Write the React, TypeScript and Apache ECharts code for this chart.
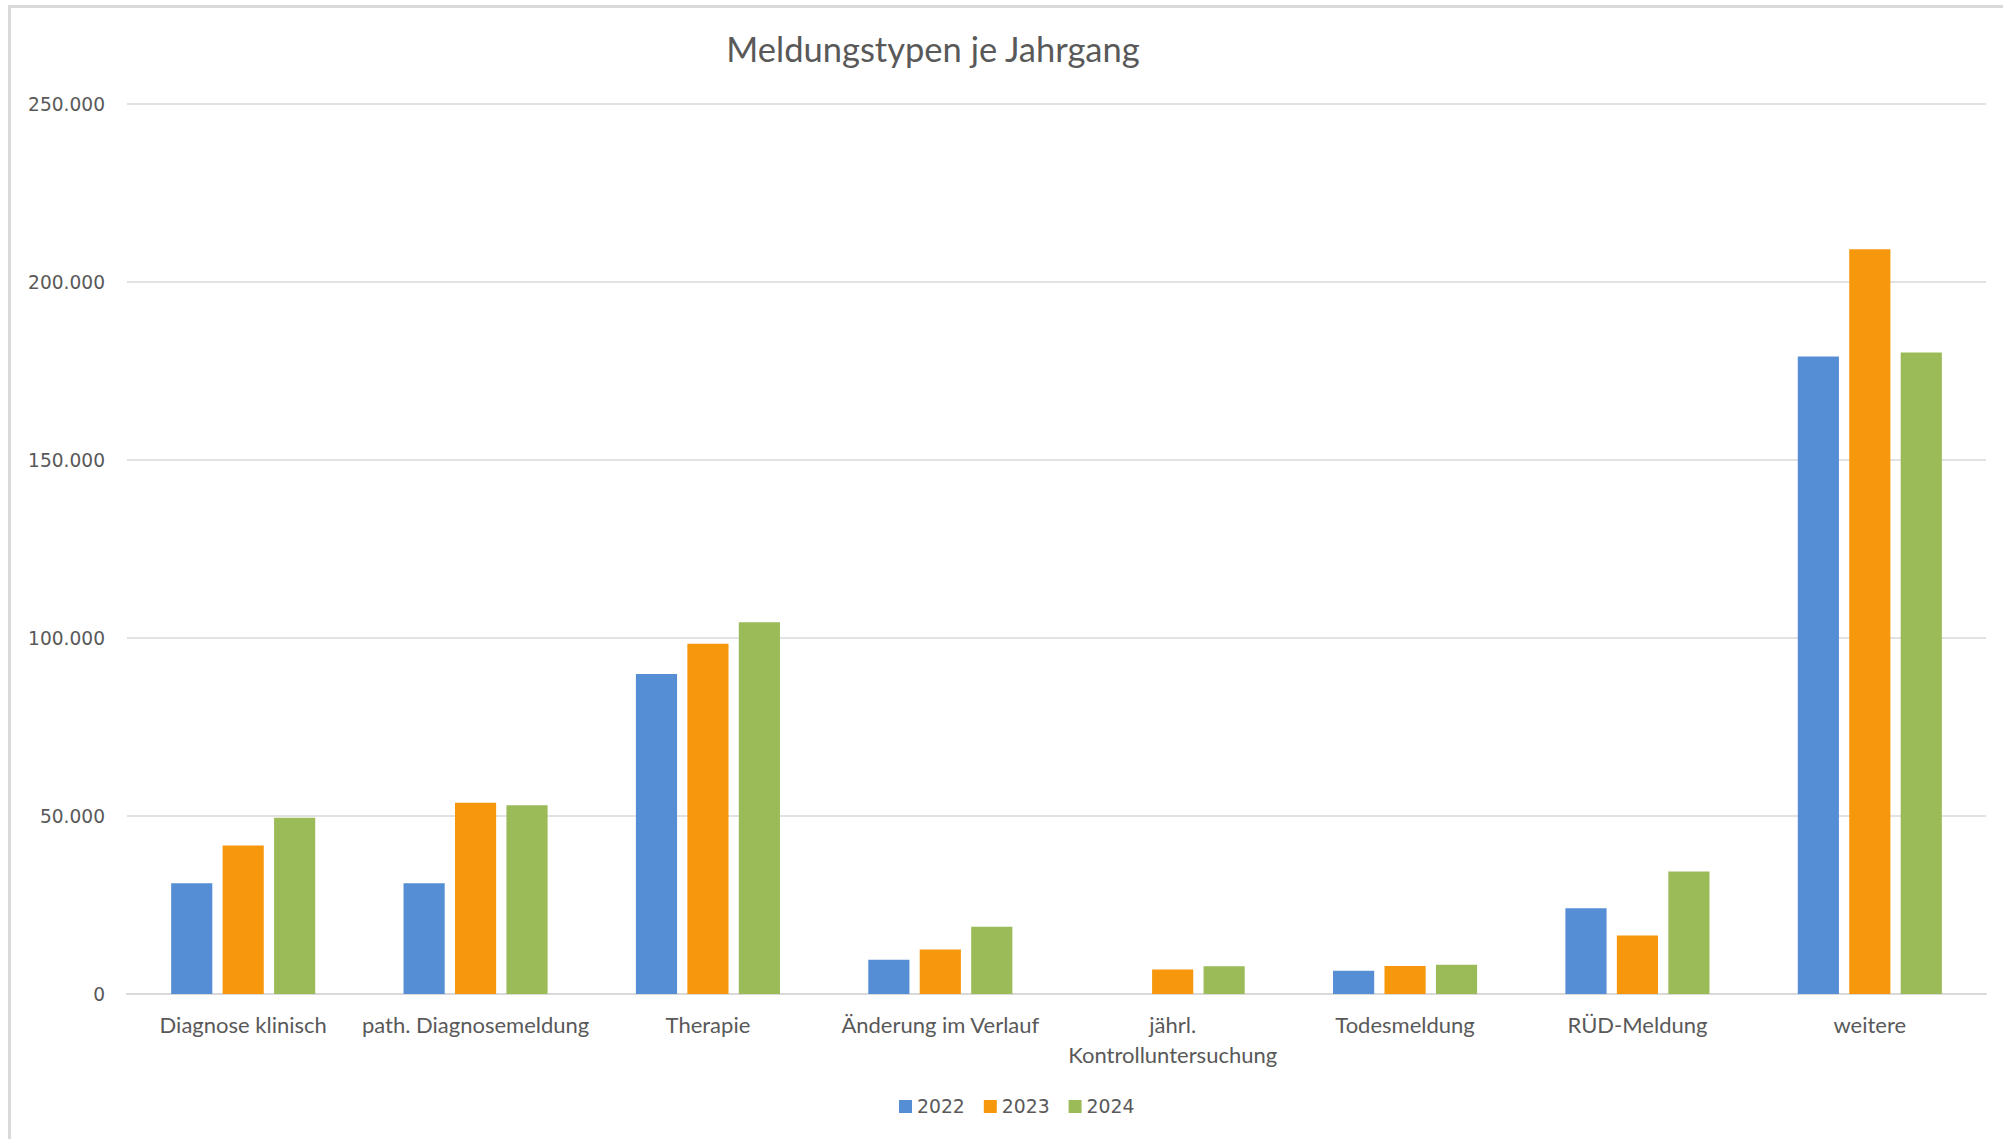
import React, { useEffect, useRef } from "react";
import * as echarts from "echarts";

const categories = [
  "Diagnose klinisch",
  "path. Diagnosemeldung",
  "Therapie",
  "Änderung im Verlauf",
  "jährl.\nKontrolluntersuchung",
  "Todesmeldung",
  "RÜD-Meldung",
  "weitere",
];
const seriesNames = ["2022", "2023", "2024"];
const values2022 = [31100, 31100, 89900, 9600, 0, 6500, 24100, 179100];
const values2023 = [41700, 53700, 98400, 12500, 6900, 7900, 16400, 209200];
const values2024 = [49500, 53000, 104400, 18900, 7800, 8200, 34400, 180200];
const colors = ["#558ED5", "#F7970C", "#9BBB59"];
const title = "Meldungstypen je Jahrgang";

const fmt = (v: number) => String(v).replace(/\B(?=(\d{3})+(?!\d))/g, ".");

export default function App() {
  const ref = useRef<HTMLDivElement>(null);
  useEffect(() => {
    if (!ref.current) return;
    const chart = echarts.init(ref.current, undefined, { renderer: "svg" });
    const allValues = [values2022, values2023, values2024];
    chart.setOption({
      animation: false,
      backgroundColor: "#ffffff",
      title: {
        text: title,
        left: 928,
        textAlign: "center",
        top: 26,
        textStyle: {
          fontFamily: "Lato",
          fontSize: 34.5,
          fontWeight: "normal",
          color: "#595959",
        },
      },
      graphic: [
        {
          type: "rect",
          shape: { x: 9.5, y: 6.5, width: 2100, height: 1200 },
          style: { fill: "none", stroke: "#d9d9d9", lineWidth: 3 },
          silent: true,
        },
      ],
      legend: {
        data: seriesNames,
        left: 899,
        top: 1097,
        padding: 0,
        itemWidth: 13,
        itemHeight: 13,
        itemGap: 19,
        icon: "rect",
        textStyle: {
          fontFamily: "DejaVu Sans",
          fontSize: 18.8,
          lineHeight: 18,
          color: "#595959",
        },
      },
      grid: { left: 127, right: 17, top: 104, bottom: 145, containLabel: false },
      xAxis: {
        type: "category",
        data: categories,
        axisLine: { lineStyle: { color: "#d9d9d9", width: 2 } },
        axisTick: { show: false },
        axisLabel: {
          interval: 0,
          margin: 15,
          fontFamily: "Lato",
          fontSize: 22,
          lineHeight: 30,
          color: "#595959",
        },
      },
      yAxis: {
        type: "value",
        min: 0,
        max: 250000,
        interval: 50000,
        axisLine: { show: false },
        axisTick: { show: false },
        splitLine: { lineStyle: { color: "#d9d9d9", width: 1.5 } },
        axisLabel: {
          margin: 22,
          fontFamily: "DejaVu Sans",
          fontSize: 18.6,
          color: "#595959",
          formatter: (v: number) => fmt(v),
        },
      },
      series: seriesNames.map((name, i) => ({
        name,
        type: "bar",
        data: allValues[i],
        barGap: "25%",
        barCategoryGap: "38%",
        itemStyle: { color: colors[i] },
      })),
    });
    return () => chart.dispose();
  }, []);
  return (
    <div
      ref={ref}
      style={{ position: "absolute", left: 0, top: 0, width: 2003, height: 1139 }}
    />
  );
}
